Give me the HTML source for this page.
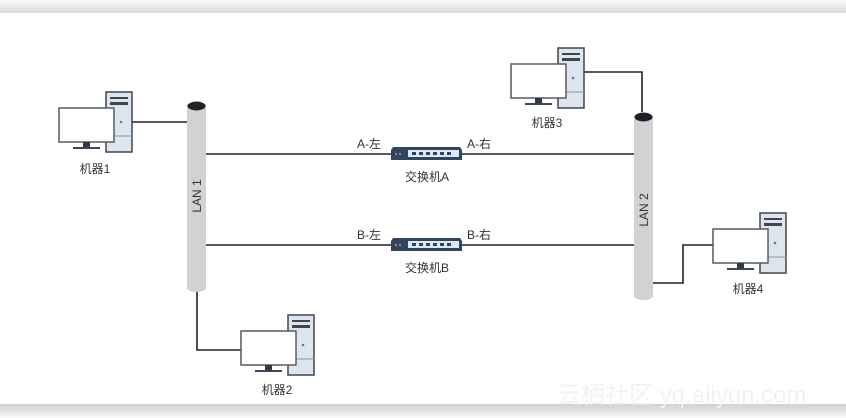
<!DOCTYPE html>
<html><head><meta charset="utf-8"><style>
html,body{margin:0;padding:0;width:846px;height:418px;overflow:hidden;background:#fff}
svg text{font-family:"Liberation Sans","Noto Sans CJK SC",sans-serif;fill:#333}
</style></head><body>
<svg width="846" height="418" viewBox="0 0 846 418" xmlns="http://www.w3.org/2000/svg">
<defs>
<linearGradient id="tg" x1="0" y1="0" x2="0" y2="1"><stop offset="0" stop-color="#fafafa"/><stop offset="1" stop-color="#d8d8d8"/></linearGradient>
<linearGradient id="bg" x1="0" y1="0" x2="0" y2="1"><stop offset="0" stop-color="#d0d0d0"/><stop offset="1" stop-color="#fafafa"/></linearGradient>
<g id="pc">
<rect x="47" y="-16" width="26" height="60" fill="#dfe5ec" stroke="#3e4650" stroke-width="1.5"/>
<rect x="51" y="-11" width="18" height="2" fill="#3e4650"/>
<rect x="51" y="-6" width="18" height="3" fill="#3e4650"/>
<line x1="47" y1="28" x2="73" y2="28" stroke="#8a96a2" stroke-width="1"/>
<circle cx="62" cy="14" r="1.3" fill="#3b7fd0"/>
<rect x="0" y="0" width="55" height="34" fill="#fff" stroke="#555c63" stroke-width="1.5"/>
<rect x="24" y="34" width="7" height="5" fill="#2e3a48"/>
<rect x="14" y="39" width="27" height="2" fill="#3e4650"/>
</g>
<g id="sw">
<path d="M2 0 H69 L71 3 V13 H0 V3 Z" fill="#2f4663"/>
<rect x="17" y="3" width="51" height="7" fill="#dfe8f2"/>
<rect x="4" y="6" width="2" height="2" fill="#d86a3c"/>
<rect x="8" y="6" width="2" height="2" fill="#d86a3c"/>
<g fill="#2f4663"><rect x="21" y="5" width="4" height="3"/><rect x="28" y="5" width="4" height="3"/><rect x="35" y="5" width="4" height="3"/><rect x="42" y="5" width="4" height="3"/><rect x="49" y="5" width="4" height="3"/><rect x="56" y="5" width="4" height="3"/></g>
</g>
</defs>
<rect x="0" y="0" width="846" height="13" fill="url(#tg)"/>
<rect x="0" y="404" width="846" height="14" fill="url(#bg)"/>
<g stroke="#222" stroke-width="1.6" fill="none">
<line x1="132" y1="122" x2="188" y2="122"/>
<line x1="206" y1="154" x2="635" y2="154"/>
<line x1="206" y1="245" x2="635" y2="245"/>
<polyline points="583,72 642,72 642,112"/>
<polyline points="653,283 683,283 683,245 713,245"/>
<polyline points="197,290 197,350 241,350"/>
</g>
<rect x="187" y="104" width="19" height="184" fill="#d2d2d4"/>
<ellipse cx="196.5" cy="288" rx="9.5" ry="4" fill="#d2d2d4"/>
<ellipse cx="196.5" cy="106" rx="9" ry="4.5" fill="#1f2226"/>
<rect x="634" y="116" width="19" height="180" fill="#d2d2d4"/>
<ellipse cx="643.5" cy="296" rx="9.5" ry="4" fill="#d2d2d4"/>
<ellipse cx="643.5" cy="117" rx="9" ry="4.5" fill="#1f2226"/>
<text transform="translate(201,196) rotate(-90)" font-size="12" text-anchor="middle">LAN 1</text>
<text transform="translate(648,210) rotate(-90)" font-size="12" text-anchor="middle">LAN 2</text>
<use href="#pc" x="59" y="108"/>
<use href="#pc" x="511" y="64"/>
<use href="#pc" x="241" y="331"/>
<use href="#pc" x="713" y="229"/>
<use href="#sw" x="391" y="147"/>
<use href="#sw" x="391" y="238"/>
<g font-size="12">
<text x="95" y="173" text-anchor="middle">机器1</text>
<text x="547" y="127" text-anchor="middle">机器3</text>
<text x="277" y="394" text-anchor="middle">机器2</text>
<text x="748" y="293" text-anchor="middle">机器4</text>
<text x="357" y="148">A-左</text>
<text x="467" y="148">A-右</text>
<text x="357" y="239">B-左</text>
<text x="467" y="239">B-右</text>
<text x="427" y="181" text-anchor="middle">交换机A</text>
<text x="427" y="272" text-anchor="middle">交换机B</text>
</g>
<text x="557" y="403" font-size="24" style="fill:#f2f2f2">云栖社区 yq.aliyun.com</text>
</svg>
</body></html>
